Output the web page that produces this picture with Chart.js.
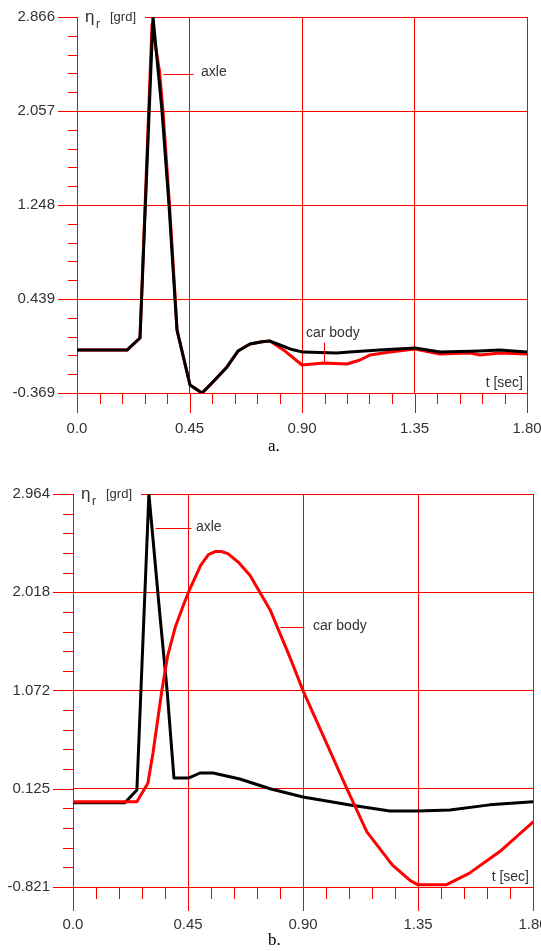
<!DOCTYPE html>
<html><head><meta charset="utf-8">
<script src="https://cdn.jsdelivr.net/npm/chart.js@4/dist/chart.umd.min.js"></script>
<style>
html,body{margin:0;padding:0;background:#fff;}
body{width:541px;height:951px;position:relative;overflow:hidden;}
canvas{position:absolute;left:0;}
#ca{top:0;}
#cb{top:460px;}
.cap{position:absolute;font-family:"Liberation Serif","Times New Roman",serif;font-size:17px;line-height:17px;color:#000;}
</style></head><body>
<canvas id="ca" width="541" height="440"></canvas>
<canvas id="cb" width="541" height="475"></canvas>
<div class="cap" style="left:268px;top:437px">a.</div>
<div class="cap" style="left:268px;top:931px">b.</div>
<script>
// ---- data ----
const xTickValues = [0, 0.45, 0.90, 1.35, 1.80];
const xTickLabels = ['0.0', '0.45', '0.90', '1.35', '1.80'];
const yTickLabelsA = ['-0.369', '0.439', '1.248', '2.057', '2.866'];
const yTickLabelsB = ['-0.821', '0.125', '1.072', '2.018', '2.964'];
const seriesNames = ['axle', 'car body'];

// chart a
const tAxleA = [0, 0.20, 0.252, 0.304, 0.34, 0.368, 0.392, 0.40, 0.452, 0.50, 0.54, 0.60, 0.644, 0.692, 0.74, 0.772, 0.812, 0.86, 0.904, 1.04, 1.09, 1.21, 1.352, 1.452, 1.61, 1.69, 1.80];
const axleA  = [0.0, 0.0, 0.104, 2.866, 2.057, 1.248, 0.439, 0.173, -0.30, -0.369, -0.283, -0.145, -0.008, 0.052, 0.072, 0.078, 0.044, 0.005, -0.017, -0.025, -0.017, 0.0, 0.018, -0.017, -0.008, 0.0, -0.017];
const tBodyA = [0, 0.20, 0.252, 0.30, 0.33, 0.344, 0.370, 0.393, 0.40, 0.452, 0.50, 0.54, 0.60, 0.644, 0.692, 0.74, 0.772, 0.832, 0.90, 0.988, 1.08, 1.132, 1.172, 1.252, 1.352, 1.452, 1.572, 1.612, 1.692, 1.80];
const bodyA  = [0.0, 0.0, 0.104, 2.80, 2.40, 2.057, 1.248, 0.439, 0.173, -0.30, -0.369, -0.283, -0.145, -0.008, 0.052, 0.072, 0.078, -0.008, -0.128, -0.111, -0.119, -0.085, -0.042, -0.017, 0.009, -0.034, -0.025, -0.042, -0.025, -0.034];

// chart b
const tAxleB = [0, 0.203, 0.25, 0.297, 0.34, 0.368, 0.395, 0.454, 0.497, 0.548, 0.653, 0.771, 0.90, 1.084, 1.24, 1.35, 1.475, 1.63, 1.80];
const axleB  = [-0.01, -0.01, 0.113, 2.964, 1.80, 1.077, 0.229, 0.229, 0.277, 0.277, 0.219, 0.125, 0.046, -0.031, -0.09, -0.09, -0.08, -0.03, 0.0];
const tBodyB = [0, 0.25, 0.293, 0.313, 0.348, 0.37, 0.40, 0.43, 0.454, 0.50, 0.53, 0.556, 0.58, 0.606, 0.65, 0.693, 0.771, 0.849, 0.90, 1.072, 1.15, 1.25, 1.32, 1.35, 1.46, 1.55, 1.67, 1.80];
const bodyB  = [0.0, 0.0, 0.178, 0.469, 1.077, 1.40, 1.68, 1.88, 2.03, 2.28, 2.38, 2.41, 2.41, 2.39, 2.30, 2.18, 1.85, 1.39, 1.07, 0.125, -0.29, -0.61, -0.76, -0.80, -0.80, -0.69, -0.48, -0.195];

// ---- drawing ----
const RED = '#ff0000';
const TXT = '#333333';
const SANS = '"Liberation Sans", Arial, sans-serif';

function pts(ts, vs) { return ts.map((t, i) => ({x: t, y: vs[i]})); }

const decoPlugin = {
  id: 'deco',
  afterDraw(chart) {
    const o = chart.options.plugins.deco;
    const ctx = chart.ctx;
    const {left, right, top, bottom} = chart.chartArea;
    const xs = chart.scales.x, ys = chart.scales.y;
    ctx.save();
    ctx.strokeStyle = RED;
    ctx.lineWidth = 1;
    const line = (x1, y1, x2, y2) => { ctx.beginPath(); ctx.moveTo(x1, y1); ctx.lineTo(x2, y2); ctx.stroke(); };
    // x ticks
    const xv = o.xTicks;
    for (let i = 0; i < xv.length; i++) {
      const px = Math.round(xs.getPixelForValue(xv[i])) + 0.5;
      line(px, bottom, px, bottom + o.xMajor);
      if (i < xv.length - 1) {
        for (let k = 1; k < 5; k++) {
          const v = xv[i] + (xv[i + 1] - xv[i]) * k / 5;
          const p = Math.round(xs.getPixelForValue(v)) + 0.5;
          line(p, bottom, p, bottom + o.xMinor);
        }
      }
    }
    // y ticks
    const yv = o.yTicks;
    for (let i = 0; i < yv.length; i++) {
      const py = Math.round(ys.getPixelForValue(yv[i])) + 0.5;
      line(left, py, left - o.yMajor, py);
      if (i < yv.length - 1) {
        for (let k = 1; k < 5; k++) {
          const v = yv[i] + (yv[i + 1] - yv[i]) * k / 5;
          const p = Math.round(ys.getPixelForValue(v)) + 0.5;
          line(left, p, left - o.yMinor, p);
        }
      }
    }
    // y axis title box
    ctx.fillStyle = '#fff';
    ctx.fillRect(left + 1, top - 3, 67, 6);
    ctx.fillStyle = TXT;
    ctx.textAlign = 'left';
    ctx.textBaseline = 'alphabetic';
    ctx.font = '17px ' + SANS;
    ctx.fillText('\u03b7', left + 8, top + 5);
    ctx.font = '12px ' + SANS;
    ctx.fillText('r', left + 19, top + 11);
    ctx.font = '13px ' + SANS;
    ctx.fillText('[grd]', left + 33, top + 4);
    // x axis title
    ctx.font = '14px ' + SANS;
    ctx.textAlign = 'right';
    ctx.fillText('t [sec]', right - 4, bottom - 6);
    // annotations
    ctx.strokeStyle = RED;
    ctx.textBaseline = 'middle';
    ctx.textAlign = 'left';
    for (const a of o.notes) {
      const x1 = xs.getPixelForValue(a.from[0]), y1 = ys.getPixelForValue(a.from[1]);
      const x2 = xs.getPixelForValue(a.to[0]), y2 = ys.getPixelForValue(a.to[1]);
      line(Math.round(x1) + 0.5, Math.round(y1) + 0.5, Math.round(x2) + 0.5, Math.round(y2) + 0.5);
      ctx.fillStyle = TXT;
      ctx.font = '14px ' + SANS;
      ctx.fillText(a.text, xs.getPixelForValue(a.at[0]), ys.getPixelForValue(a.at[1]));
    }
    ctx.restore();
  }
};

function makeChart(id, opt) {
  const yVals = opt.yLabels.map(parseFloat);
  return new Chart(document.getElementById(id), {
    type: 'line',
    data: {
      datasets: opt.datasets
    },
    options: {
      responsive: false,
      animation: false,
      events: [],
      layout: {padding: {left: 0, right: opt.padRight, top: opt.padTop, bottom: 0}},
      elements: {point: {radius: 0}, line: {tension: 0, borderJoinStyle: 'round', borderCapStyle: 'round'}},
      plugins: {
        legend: {display: false},
        tooltip: {enabled: false},
        deco: {
          xTicks: xTickValues, yTicks: yVals,
          xMajor: opt.xMajor, xMinor: opt.xMinor, yMajor: opt.yMajor, yMinor: opt.yMinor,
          notes: opt.notes
        }
      },
      scales: {
        x: {
          type: 'linear', min: 0, max: 1.8,
          afterBuildTicks: s => { s.ticks = xTickValues.map(v => ({value: v})); },
          afterFit: s => { s.height = opt.xHeight; s.paddingLeft = 0; s.paddingRight = 0; },
          ticks: {
            callback: (v, i) => xTickLabels[i],
            font: {family: SANS, size: 15}, color: TXT,
            padding: opt.xPad, maxRotation: 0, autoSkip: false
          },
          grid: {color: RED, lineWidth: 1, drawTicks: false},
          border: {color: RED, width: 1}
        },
        y: {
          type: 'linear', min: yVals[0], max: yVals[yVals.length - 1],
          afterBuildTicks: s => { s.ticks = yVals.map(v => ({value: v})); },
          afterFit: s => { s.width = opt.yWidth; s.paddingTop = 0; s.paddingBottom = 0; },
          ticks: {
            callback: (v, i) => opt.yLabels[i],
            font: {family: SANS, size: 15}, color: TXT,
            padding: opt.yPad, autoSkip: false
          },
          grid: {color: RED, lineWidth: 1, drawTicks: false},
          border: {color: RED, width: 1}
        }
      }
    },
    plugins: [decoPlugin]
  });
}

makeChart('ca', {
  yLabels: yTickLabelsA,
  padRight: 14, padTop: 17, xHeight: 47, yWidth: 77, xPad: 27, yPad: 22,
  xMajor: 20, xMinor: 11, yMajor: 19, yMinor: 9,
  datasets: [
    {label: seriesNames[0], data: pts(tAxleA, axleA), borderColor: '#000', borderWidth: 3},
    {label: seriesNames[1], data: pts(tBodyA, bodyA), borderColor: '#ff0000', borderWidth: 3}
  ],
  notes: [
    {text: seriesNames[0], from: [0.344, 2.375], to: [0.464, 2.375], at: [0.496, 2.39]},
    {text: seriesNames[1], from: [0.988, 0.07], to: [0.988, -0.111], at: [0.916, 0.147]}
  ]
});

makeChart('cb', {
  yLabels: yTickLabelsB,
  padRight: 8, padTop: 34, xHeight: 48, yWidth: 73, xPad: 29, yPad: 23,
  xMajor: 24, xMinor: 12, yMajor: 20, yMinor: 10,
  datasets: [
    {label: seriesNames[1], data: pts(tBodyB, bodyB), borderColor: '#ff0000', borderWidth: 3},
    {label: seriesNames[0], data: pts(tAxleB, axleB), borderColor: '#000', borderWidth: 3}
  ],
  notes: [
    {text: seriesNames[0], from: [0.321, 2.637], to: [0.462, 2.637], at: [0.481, 2.647]},
    {text: seriesNames[1], from: [0.81, 1.683], to: [0.904, 1.683], at: [0.939, 1.693]}
  ]
});
</script>
</body></html>
